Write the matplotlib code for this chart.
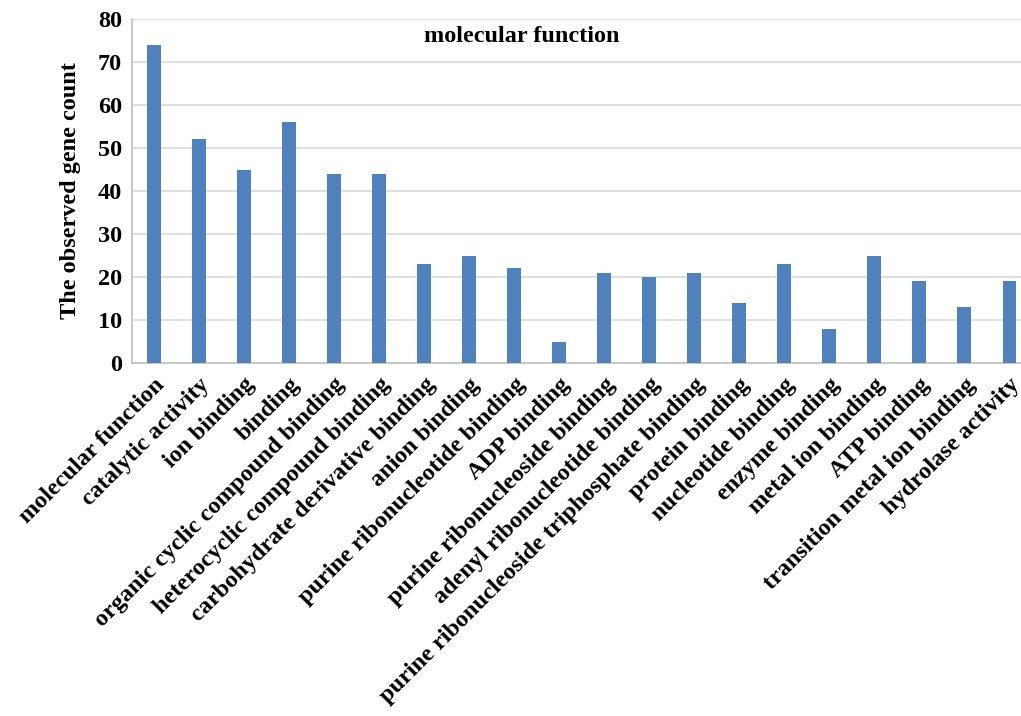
#!/usr/bin/env python3

import matplotlib
matplotlib.use('Agg')
import matplotlib.pyplot as plt

plt.rcParams.update({
    'font.family': 'Liberation Serif',
    'font.weight': 'bold',
    'font.size': 17.5,
})

terms = [
    'molecular function', 'catalytic activity', 'ion binding', 'binding',
    'organic cyclic compound binding', 'heterocyclic compound binding',
    'carbohydrate derivative binding', 'anion binding',
    'purine ribonucleotide binding', 'ADP binding',
    'purine ribonucleoside binding', 'adenyl ribonucleotide binding',
    'purine ribonucleoside triphosphate binding', 'protein binding',
    'nucleotide binding', 'enzyme binding', 'metal ion binding',
    'ATP binding', 'transition metal ion binding', 'hydrolase activity',
]
gene_counts = [74, 52, 45, 56, 44, 44, 23, 25, 22, 5, 21, 20, 21, 14, 23, 8, 25, 19, 13, 19]
y_ticks = [0, 10, 20, 30, 40, 50, 60, 70, 80]

fig = plt.figure(figsize=(10.21, 7.16), dpi=100)
# axes run slightly past the right edge, so the last bar sits at the border
ax = fig.add_axes([131.5 / 1021, 353 / 716, 900.5 / 1021, 344 / 716])

x = list(range(len(terms)))
ax.bar(x, gene_counts, width=0.31, color='#4f81bd', zorder=3)

ax.set_xlim(-0.5, len(terms) - 0.5)
ax.set_ylim(0, 80)
ax.set_yticks(y_ticks)
ax.yaxis.grid(True, color='#d9d9d9', linewidth=1.2, zorder=0)
ax.set_axisbelow(True)

ax.set_xticks(x)
ax.set_xticklabels(terms, rotation=45, ha='right', va='top',
                   rotation_mode='anchor', fontsize=17.5, fontweight='bold')
ax.tick_params(axis='x', length=0, pad=8)
ax.tick_params(axis='y', length=0, pad=7, labelsize=17.5)

for side in ('top', 'right'):
    ax.spines[side].set_visible(False)
for side in ('left', 'bottom'):
    ax.spines[side].set_color('#bfbfbf')
    ax.spines[side].set_linewidth(1.2)

ax.set_ylabel('The observed gene count', fontsize=17.5, fontweight='bold', labelpad=12)
ax.text(522 / 1021, 1 - 37 / 716, 'molecular function', transform=fig.transFigure,
        ha='center', va='center', fontsize=17.5, fontweight='bold')

fig.savefig('out.png', dpi=100)
